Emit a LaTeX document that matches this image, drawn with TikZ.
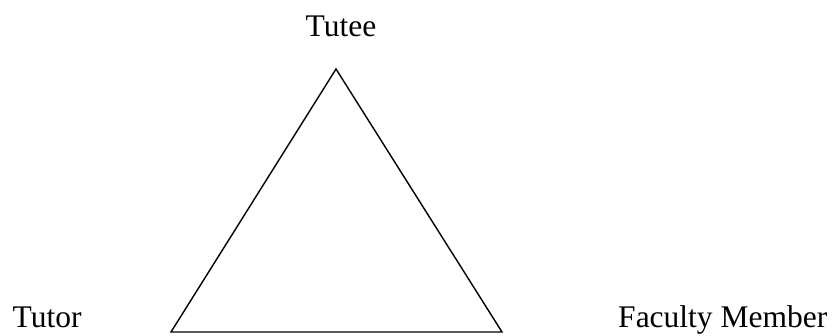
\documentclass[tikz,border=0pt]{standalone}
\usepackage{fontspec}
\setmainfont{Liberation Serif}
\begin{document}
\begin{tikzpicture}[x=1pt,y=-1pt,line width=1.4pt,
  role/.style={inner sep=0pt,font=\fontsize{31.5}{36}\selectfont}]
\useasboundingbox (0,0) rectangle (835,335);

\coordinate (top) at (336,69);
\coordinate (left) at (171,332);
\coordinate (right) at (502,332);
\draw[line join=miter] (top) -- (left) -- (right) -- cycle;

\node[role,anchor=base] (tutee) at (341,36) {Tutee};
\node[role,anchor=base west] (tutor) at (12,327) {Tutor};
\node[role,anchor=base east] (faculty) at (828,327) {Faculty Member};
\end{tikzpicture}
\end{document}
